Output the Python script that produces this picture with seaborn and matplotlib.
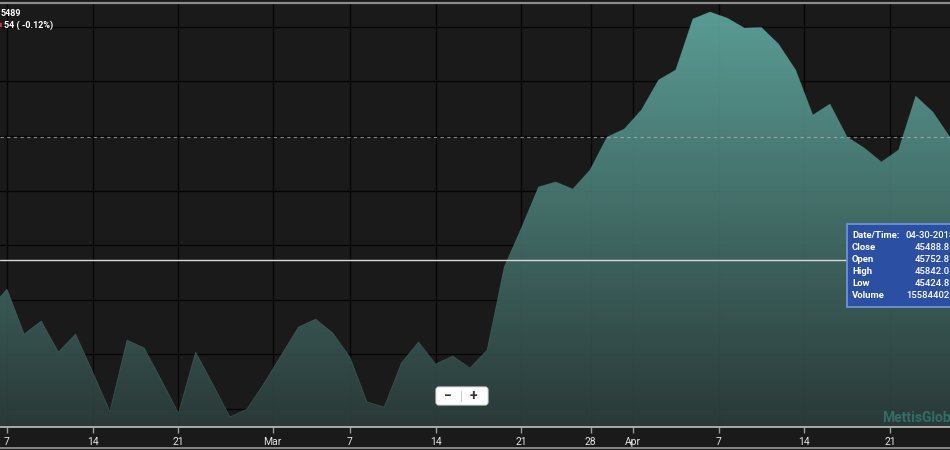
import numpy as np
import pandas as pd
import matplotlib
matplotlib.use("Agg")
import matplotlib.pyplot as plt
import seaborn as sns
from matplotlib.patches import Rectangle, FancyBboxPatch
from matplotlib.colors import LinearSegmentedColormap
from matplotlib.transforms import IdentityTransform
from matplotlib.lines import Line2D

# ---------------- data ----------------
day_index = list(range(-1, 56))  # trading-day index (0 = Feb 7)
close = [43915, 44098, 43686, 43805, 43521, 43686, 43338, 42980, 43631, 43558,
         43265, 42962, 43521, 43228, 42926, 42999, 43237, 43494, 43750, 43823,
         43695, 43475, 43063, 43017, 43420, 43613, 43411, 43484, 43374, 43539,
         44300, 44657, 45033, 45079, 45014, 45188, 45491, 45564, 45738, 46013,
         46105, 46572, 46636, 46581, 46490, 46495, 46343, 46105, 45692, 45793,
         45491, 45390, 45262, 45372, 45866, 45720, 45489]
tick_pos = [0, 5, 10, 15.5, 20, 25, 30, 34.05, 36.5, 41.5, 46.5, 51.5]
tick_labels = ["7", "14", "21", "Mar", "7", "14", "21", "28", "Apr", "7", "14", "21"]
grid_levels = [43000, 43500, 44000, 44500, 45000, 45500, 46000, 46500]
last_close = 45488.8
crosshair_value = 44364
tooltip_labels = ["Date/Time:", "Close", "Open", "High", "Low", "Volume"]
tooltip_values = ["04-30-2018", "45488.8", "45752.8", "45842.0", "45424.8", "15584402"]
header_line1 = "5489"
header_line2 = "54 ( -0.12%)"
watermark = "MettisGlobal"

W, H = 950, 450
X_LIM = (-0.41, 55.0)
Y_LIM = (42834, 46718)

sns.set_theme(style="dark")
plt.rcParams["font.family"] = ["Roboto", "DejaVu Sans"]

BG = "#1a1a1a"
fig = plt.figure(figsize=(W / 100, H / 100), dpi=100, facecolor=BG)
ax = fig.add_axes([0, 23 / H, 1, 424 / H])
ax.set_facecolor(BG)

df = pd.DataFrame({"day": day_index, "close": close})

# gradient area fill
poly = ax.fill_between(df["day"], df["close"], Y_LIM[0] - 500, color="none", lw=0)
cmap = LinearSegmentedColormap.from_list("tealgrad", [(44/255, 61/255, 59/255), (98/255, 174/255, 165/255)])
grad = np.linspace(0, 1, 256).reshape(-1, 1)
im = ax.imshow(grad, extent=[X_LIM[0] - 2, X_LIM[1] + 2, Y_LIM[0], Y_LIM[1]],
               aspect="auto", cmap=cmap, origin="lower", zorder=1, alpha=0.9)
im.set_clip_path(poly.get_paths()[0], transform=ax.transData)

sns.lineplot(data=df, x="day", y="close", ax=ax, color="#5ea79e", linewidth=0.6,
             alpha=0.25, zorder=3)

ax.set_xlim(*X_LIM)
ax.set_ylim(*Y_LIM)
ax.set_xlabel("")
ax.set_ylabel("")

# grid (below the semi-opaque fill)
ax.set_axisbelow(True)
ax.set_yticks(grid_levels)
ax.set_xticks(tick_pos, tick_labels)
ax.grid(True, color="#060606", linewidth=1.0, zorder=0.5)
ax.tick_params(axis="y", length=0, labelleft=False)
ax.tick_params(axis="x", bottom=True, length=4, width=1, color="#9a9a9a",
               labelcolor="#e4e4e4", labelsize=7.5, pad=3)
for lab in ax.get_xticklabels():
    lab.set_family(["Liberation Sans Narrow", "Roboto", "DejaVu Sans"])

for side in ["left", "right"]:
    ax.spines[side].set_visible(False)
ax.spines["bottom"].set_color("#b4b4b4")
ax.spines["bottom"].set_linewidth(1.3)
ax.spines["top"].set_color("#8c8c8c")
ax.spines["top"].set_linewidth(1.6)

# last-close dashed line and crosshair
ax.axhline(last_close, color="#b8b8b8", lw=0.8, ls=(0, (3, 3)), alpha=0.7, zorder=4)
ax.axhline(crosshair_value, color="#d8d8d8", lw=1.0, zorder=4)

# bottom border line of figure
fig.add_artist(Line2D([0, 1], [1 - 447.5 / H] * 2, transform=fig.transFigure,
                      color="#9a9a9a", lw=1.2))

# header text (top-left)
fig.text(1 / W, 1 - 14 / H, header_line1, color="white", fontsize=6.5,
         fontweight="bold", va="center", ha="left")
fig.add_artist(Rectangle((0, 1 - 27 / H), 2 / W, 4 / H, transform=fig.transFigure,
                         facecolor="#c0304a", edgecolor="none"))
fig.text(4 / W, 1 - 25 / H, header_line2, color="white", fontsize=6.5,
         fontweight="bold", va="center", ha="left")

# tooltip box
fig.add_artist(Rectangle((846.5 / W, 1 - 307 / H), 130 / W, 83 / H, transform=fig.transFigure,
                         facecolor="#2b50a3", edgecolor="#6e93d8", lw=1.3, zorder=10))
row_y = [235, 247, 259, 271.5, 284, 296]
for i, (lab, val) in enumerate(zip(tooltip_labels, tooltip_values)):
    fig.text(852 / W, 1 - row_y[i] / H, lab, color="white", fontsize=6.8,
             fontweight="bold", va="center", ha="left", zorder=11)
    vx = 906 if i in (0, 5) else 915
    fig.text(vx / W, 1 - row_y[i] / H, val, color="white", fontsize=6.8,
             fontweight="medium", va="center", ha="left", zorder=11)

# zoom buttons
fig.add_artist(FancyBboxPatch((436, H - 405), 52, 18, boxstyle="round,pad=0,rounding_size=3",
                              transform=IdentityTransform(), facecolor="white",
                              edgecolor="#dddddd", lw=0.8, zorder=10))
fig.add_artist(Line2D([461, 461], [H - 401, H - 391], transform=IdentityTransform(),
                      color="#cccccc", lw=0.8, zorder=11))
fig.text(448 / W, 1 - 396 / H, "\u2212", color="#333333", fontsize=10, fontweight="bold",
         ha="center", va="center", zorder=11)
fig.text(473 / W, 1 - 396 / H, "+", color="#333333", fontsize=10, fontweight="bold",
         ha="center", va="center", zorder=11)

# watermark
fig.text(882 / W, 1 - 417.5 / H, watermark, color="#3aa093", alpha=0.5, fontsize=10,
         fontweight="bold", ha="left", va="center", zorder=5)

fig.savefig("out.png", dpi=100, facecolor=fig.get_facecolor())
